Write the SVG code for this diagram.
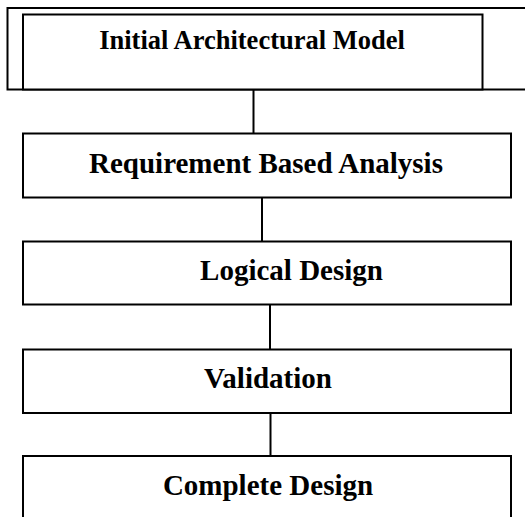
<svg xmlns="http://www.w3.org/2000/svg" width="525" height="517" viewBox="0 0 525 517">
<style>
.box{fill:#fff;stroke:#000;stroke-width:2}
.frame{fill:none;stroke:#000;stroke-width:2}
.conn line{stroke:#000;stroke-width:2}
text{font-family:"Liberation Serif","Times New Roman",serif;font-weight:bold;font-size:29px;fill:#000;text-anchor:middle}
</style>
<rect width="525" height="517" fill="#fff"/>
<g id="frame"><rect class="frame" x="7.5" y="8" width="530" height="81.5"/></g>
<g id="connectors" class="conn">
<line x1="253.5" y1="90" x2="253.5" y2="133.5"/>
<line x1="262" y1="197.5" x2="262" y2="241.5"/>
<line x1="270" y1="304.5" x2="270" y2="349.5"/>
<line x1="270.5" y1="413" x2="270.5" y2="456"/>
</g>
<g id="n1"><rect class="box" x="23" y="14.5" width="459.5" height="75"/><text x="252" y="49" style="font-size:26.5px">Initial Architectural Model</text></g>
<g id="n2"><rect class="box" x="23" y="133.5" width="488" height="64"/><text x="266" y="173">Requirement Based Analysis</text></g>
<g id="n3"><rect class="box" x="23" y="241.5" width="488" height="63"/><text x="291.5" y="280">Logical Design</text></g>
<g id="n4"><rect class="box" x="23" y="349.5" width="488" height="63.5"/><text x="268" y="388">Validation</text></g>
<g id="n5"><rect class="box" x="23" y="456" width="488" height="80"/><text x="268" y="495">Complete Design</text></g>
</svg>
